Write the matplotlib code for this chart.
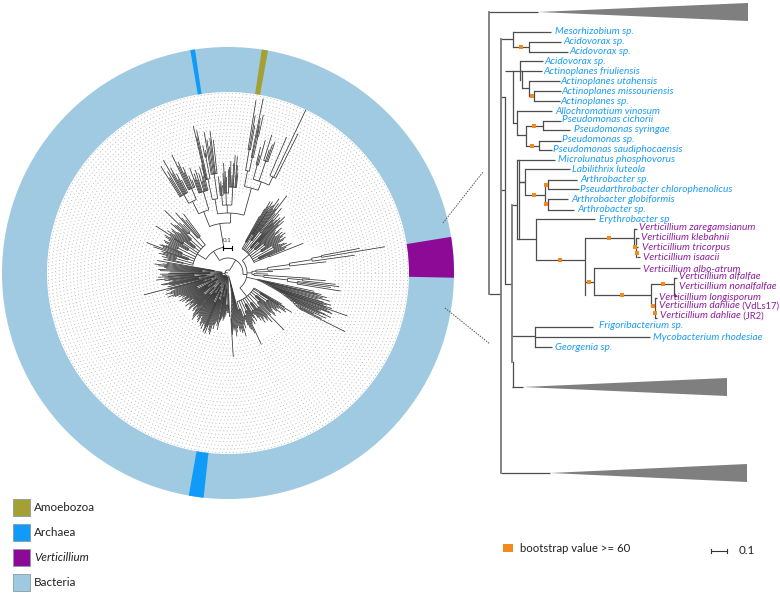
import numpy as np
import matplotlib
matplotlib.use("Agg")
import matplotlib.pyplot as plt
from matplotlib.collections import LineCollection
from matplotlib.patches import Wedge, Polygon, Rectangle

plt.rcParams['font.family'] = ['Lato', 'DejaVu Sans']

BLUE = '#1c9cf2'
PURPLE = '#8f1f9f'
GREY = '#7f7f7f'
ORANGE = '#f28a1c'
CX, CY = 228.0, 273.0

# ring sectors, degrees counter-clockwise from east
ring_names = ['Amoebozoa', 'Archaea', 'Verticillium', 'Archaea']
ring_start = [79.8, 98.4, -1.2, 260.0]
ring_end = [81.4, 99.6, 9.2, 263.8]
ring_colors = ['#a5a033', '#0f9bf7', '#8c0a96', '#0f9bf7']

# inner limit of the dotted guide rings (angle, radius)
mask_angle = [0, 12, 20, 30, 40, 50, 55, 60, 65, 71, 82, 90, 97, 104, 115, 126, 135, 145, 160, 175,
              190, 200, 230, 250, 270, 274, 280, 295, 315, 330, 340, 350, 360]
mask_r = [108, 100, 85, 74, 82, 92, 98, 104, 108, 92, 78, 68, 72, 62, 70, 70, 72, 74, 80, 70,
          70, 62, 58, 62, 60, 80, 62, 75, 78, 75, 100, 105, 108]

# circular tree, nodes are [radius, children...], leaves are (angle, tip radius)
cluster_a = [88,
             [104, [125, (80.8, 175), (80.2, 160), (79.7, 150)], [118, (78.6, 178), (78.2, 158), [140, (77.9, 150), (77.4, 162)]]],
             [97, [112, (75.5, 130), (74.9, 122), (74.3, 138)], [118, (72.4, 145), (71.5, 130), (70.9, 136), (70.3, 139)],
              [106, (66.7, 148), (64.5, 181), (63.3, 156)]]]
cluster_b = [68,
             [78, (95.7, 97), (95.1, 90), (94.5, 92), (93.5, 88)],
             [80, (92.9, 100), (92.3, 110), (91.6, 102), (91.0, 96), (90.0, 104)],
             [86, (89.2, 106), (88.5, 112), (87.6, 98), (87.0, 110), (86.5, 118), (85.4, 117), (84.9, 108), (84.4, 100)]]
cluster_c = [75,
             [96, (103.3, 151), (102.9, 140), (102.4, 146), [118, (101.2, 130), (100.8, 122), (100.4, 125)]],
             [100, (99.6, 143), (99.0, 135), (98.3, 128), (97.7, 136), (97.2, 143), (96.3, 134)]]
cluster_d = [66,
             [85, (110.0, 112), (109.4, 100), (108.8, 105), (108.2, 98), (107.6, 108), (106.4, 104), (105.7, 96), (105.0, 110), (104.4, 100), (103.7, 111)],
             [80, [92, (115.4, 131), (114.8, 118), (114.2, 122), (113.6, 110), (113.0, 115), (112.0, 105), (111.2, 100)],
              [90, (122.2, 126), (121.5, 112), (120.8, 118), (119.8, 130), (119.2, 114), (118.6, 120), (118.0, 106), (117.4, 112), (116.6, 104)]]]
leaves_e = [(127, 74), (128.5, 68), (130, 72), (131, 80), (132.5, 66), (134, 70), (135.3, 89), (136, 64), (137, 70),
            (138, 72), (139, 76), (140, 62), (141, 65), (142, 72), (143, 70), (144, 66), (145, 74), (146, 70),
            (146.9, 86), (147.5, 64), (148, 68), (149, 74), (150, 72), (151, 68), (152, 66), (153, 72), (154, 70),
            (155, 66), (156, 68), (156.8, 72), (157.5, 74), (158.5, 70), (159.5, 87), (160.6, 79), (161.3, 66),
            (162, 70), (163, 68), (164, 72), (165, 64), (166, 68), (167, 62), (168, 66)]
leaves_f = [(170, 72), (171, 62), (172, 66), (173, 74), (174, 70), (175, 64), (176, 62), (177, 70), (178, 68),
            (179, 58), (180, 60), (181, 68), (182, 66), (183, 60), (183.5, 70), (184.5, 64), (185.6, 72), (186.3, 60),
            (187, 64), (188, 56), (189, 60), (189.8, 68), (190.5, 66), (191.3, 60), (192, 58), (193, 62), (194.6, 87),
            (195.3, 60), (196, 64), (197, 56), (198, 60), (199, 66), (200, 62), (201, 58), (202, 65), (203, 60),
            (204, 58), (205, 52), (206, 55), (207, 50)]
leaves_g = [(208, 52), (209, 48), (210, 56), (211, 50), (212, 54), (213, 46), (214, 50), (215, 52), (216, 48), (217, 44),
            (218, 54), (219, 48), (220, 50), (221, 46), (222, 52), (223, 54), (224, 48), (225, 44), (226, 50), (227, 52),
            (228, 46), (229, 50), (230, 54), (231, 56), (232.3, 59), (233, 52), (234, 50), (235, 54), (236, 52), (237, 56),
            (238, 58), (239, 50), (240, 54), (241, 58), (242, 60), (243, 56), (244, 62), (245, 56), (246, 58), (246.8, 64),
            (247.5, 62), (248.3, 58), (249, 65), (250, 56), (251, 60), (252, 62), (253, 64), (254, 54), (255, 58), (256, 52),
            (257, 50), (258, 54), (259.4, 58), (260.2, 50), (261, 48), (262, 46), (263, 44), (264, 48), (265, 46), (266, 44),
            (267, 42), (268, 38), (269, 40), (270, 36), (271, 40), (272, 44)]
leaves_keel = [(285, 60), (284, 62), (283, 58), (282, 60), (281, 54), (280, 56), (279, 60), (278, 64),
               (277, 58), (276, 56), (275, 58), (274.3, 62), (273.6, 84)]
leaves_h = [(286, 66), (287, 54), (288, 58), (289, 52), (290, 50), (291, 56), (292, 60),
            (293, 62), (294, 66), (295, 79), (296, 56), (297, 54), (298, 58), (299, 50), (300, 52), (301, 56), (302, 48),
            (303, 50), (304, 54), (305, 58), (306, 54), (307, 62), (308, 58), (309, 56), (310, 62), (311, 60), (312, 66),
            (313, 58), (314.5, 80), (315.5, 60), (317, 58), (318, 64), (319, 62), (320, 58), (321, 56), (322, 62), (323, 66),
            (324, 60), (325, 62), (326, 70), (327, 68), (327.6, 60), (328.3, 75), (329, 66), (330, 62)]
leaves_i = [(348, 88), (347, 96), (346.5, 92), (346, 102), (345.2, 98), (344.5, 106), (343.8, 94), (343, 100), (342.6, 108),
            (342, 104), (341.6, 100), (341, 110), (340.7, 104), (340.2, 127), (339.6, 106), (339, 110), (338.6, 112), (338, 100),
            (337.6, 98), (337, 106), (336.6, 112), (336, 100), (335.2, 108), (334.5, 95), (334, 104), (333.4, 131)]
leaves_up = [(61, 65), (60.2, 74), (59.5, 83), (58.8, 78), (58, 84), (57.5, 74), (57, 80), (56.2, 82), (55.5, 90), (54.8, 78),
             (54, 86), (53.3, 80), (52.7, 97), (51.6, 76), (50.5, 84), (49.8, 70), (49, 78), (48.2, 68), (47.5, 72), (46.7, 76),
             (46, 66), (45.4, 74), (44.7, 80), (43.8, 70), (43, 76), (42, 64), (41, 62), (40, 70), (39, 66), (38, 60), (37, 68),
             (36, 64), (35, 70), (34, 66), (33, 62), (32, 68), (31, 65), (30, 58), (29, 60), (28, 64), (27, 66), (26, 60),
             (25, 70), (24, 64), (23, 62), (21.5, 81)]
right_up = [24,
            [28, (2.0, 45), [40, (4.0, 62), [62, (6.5, 99), [85, (8.0, 128), [95, (9.5, 159), (10.6, 134)]]]]],
            [26, (-1.5, 40), [36, (-3.7, 82), [60, [75, (-4.5, 98), (-6.0, 108)], [70, (-7.0, 112), (-8.0, 104), (-9.1, 114)]]]]]

# right hand tree, pixel-read: horizontal branches (x0, x1, y)
h_x0 = [489, 489, 501, 513, 513, 529, 529, 501, 505, 513, 520, 520, 521.5, 529, 529, 534, 534, 513, 517, 517, 526, 543, 543, 526, 539, 539,
        501, 505, 512, 517, 519, 525, 519, 525, 545, 548, 548, 545, 548, 548, 517, 536, 536, 585, 634, 636, 636, 637,
        585, 594, 594, 651, 674, 674, 651, 655, 655, 512, 535, 535, 535, 512, 501]
h_x1 = [538, 501, 513, 551, 529, 561, 568, 505, 513, 520, 543, 542, 529, 560, 534, 561, 560, 517, 552, 526, 543, 561, 570, 539, 561, 552,
        505, 512, 517, 555, 525, 570, 525, 545, 548, 577, 579, 548, 568, 574, 536, 595, 585, 634, 637, 639, 638, 640,
        594, 640, 651, 674, 677, 677, 655, 657, 657, 535, 593, 650, 552, 523, 550]
h_y = [12, 294, 39, 32, 47, 42, 52, 97, 71, 71, 61, 71, 88, 81, 96, 91, 101, 123, 111, 135, 126, 121, 130, 146, 141, 150,
       190, 284, 205, 160, 182, 169, 182, 195, 185, 180, 189, 204, 199, 210, 239, 219, 260, 238, 229, 238, 247, 257,
       282, 268, 295, 284, 278, 296, 306, 298, 318, 336, 327, 337, 347, 387, 473]
# vertical spines (x, y0, y1)
v_x = [513, 529, 505, 513, 520, 521.5, 529, 534, 517, 526, 543, 539, 519, 525, 545, 548, 548, 517, 536, 585, 634, 636, 594, 651, 674, 655, 535, 513]
v_y0 = [32, 42, 97, 71, 61, 71, 81, 91, 111, 126, 121, 141, 160, 169, 185, 180, 199, 160, 219, 238, 229, 238, 268, 284, 278, 298, 327, 362]
v_y1 = [47, 52, 284, 123, 80, 88, 96, 101, 135, 146, 130, 150, 239, 195, 204, 189, 210, 239, 260, 295, 247, 257, 295, 306, 296, 318, 347, 387]
# heavier main spines
thick_x = [489, 501, 512]
thick_y0 = [12, 39, 205]
thick_y1 = [294, 473, 362]
# collapsed clades (tip x, tip y, right x, top y, bottom y)
wedge_tip_x = [538, 523, 550]
wedge_tip_y = [12, 387, 473]
wedge_right = [748, 727, 747]
wedge_top = [3, 378, 464]
wedge_bottom = [21, 396, 482]
# bootstrap marks
boot_x = [521, 531.5, 534, 532, 534, 546, 546, 560, 609, 635, 637, 589, 622, 663, 653, 655]
boot_y = [47, 96, 126, 146, 195, 185, 204, 260, 238, 247, 253, 282, 295, 284, 306, 313]

taxa_blue = ['Mesorhizobium sp.', 'Acidovorax sp.', 'Acidovorax sp.', 'Acidovorax sp.', 'Actinoplanes friuliensis',
             'Actinoplanes utahensis', 'Actinoplanes missouriensis', 'Actinoplanes sp.', 'Allochromatium vinosum',
             'Pseudomonas cichorii', 'Pseudomonas syringae', 'Pseudomonas sp.', 'Pseudomonas saudiphocaensis',
             'Microlunatus phosphovorus', 'Labilithrix luteola', 'Arthrobacter sp.', 'Pseudarthrobacter chlorophenolicus',
             'Arthrobacter globiformis', 'Arthrobacter sp.', 'Erythrobacter sp', 'Frigoribacterium sp.',
             'Mycobacterium rhodesiae', 'Georgenia sp.']
blue_x = [555, 563, 569, 544, 543, 560, 561, 560, 555, 562, 574, 562, 553, 558, 572, 580, 580, 571, 577, 599, 599, 653, 555]
blue_y = [31, 41.5, 51, 61, 71, 81, 92, 102, 112, 120, 130, 140, 150, 160, 169, 179, 189, 199, 209, 219, 325, 338, 347]
taxa_purple = ['Verticillium zaregamsianum', 'Verticillium klebahnii', 'Verticillium tricorpus', 'Verticillium isaacii',
               'Verticillium albo-atrum', 'Verticillium alfalfae', 'Verticillium nonalfalfae', 'Verticillium longisporum']
purple_x = [639, 641, 642, 643, 643, 679, 679, 659]
purple_y = [228, 238, 247, 258, 269, 277, 287, 297]
dahliae_strain = ['(VdLs17)', '(JR2)']
dahliae_x = [659, 660]
dahliae_y = [306, 316]

legend_names = ['Amoebozoa', 'Archaea', 'Verticillium', 'Bacteria']
legend_colors = ['#a5a033', '#0f9bf7', '#8c0a96', '#9ecae1']
legend_y = [507.5, 532.5, 557.5, 582.5]


def pol(a, r):
    t = np.radians(a)
    return CX + r * np.cos(t), CY - r * np.sin(t)


def ladder(r0, r1, leaves):
    # caterpillar clade, spine walks towards the last leaf
    node = leaves[-1]
    n = len(leaves)
    for i in range(n - 2, -1, -1):
        r = r0 + (r1 - r0) * i / max(n - 2, 1)
        node = [min(r, leaves[i][1] - 3), leaves[i], node]
    return node


def clumps(r0, node_rings, leaves, size=4):
    # dense fan: small groups hanging off one arc
    groups = []
    for i, k in enumerate(range(0, len(leaves), size)):
        part = leaves[k:k + size]
        r = min(node_rings[i % len(node_rings)], min(p[1] for p in part) - 3)
        groups.append([r] + part)
    return [r0] + groups


def neg(leaves):
    return [(a - 360, r) for a, r in leaves]


tree_root = [3,
             [15,
              [19,
               clumps(28, [36, 46, 40, 52, 34, 44], leaves_up),
               right_up,
               ladder(30, 80, neg(leaves_i)),
               clumps(30, [38, 46, 42, 36, 48], neg(leaves_h))],
              [16,
               [26,
                clumps(36, [46, 56, 50, 42, 54], leaves_e),
                [50, cluster_d, [60, cluster_c, cluster_b, cluster_a]]]]],
             clumps(6, [14, 26, 18, 34, 22, 30], leaves_f),
             clumps(4, [12, 24, 16, 32, 20, 28], leaves_g),
             ladder(6, 46, leaves_keel)]

segs = []


def draw_node(node, parent_r):
    if isinstance(node, tuple):
        a, r = node
        segs.append([pol(a, parent_r), pol(a, r)])
        return a
    r = node[0]
    angs = [draw_node(c, r) for c in node[1:]]
    a0, a1 = min(angs), max(angs)
    aa = np.linspace(a0, a1, max(int(a1 - a0) // 3 + 2, 2))
    segs.append([pol(x, r) for x in aa])
    a = 0.5 * (a0 + a1)
    segs.append([pol(a, parent_r), pol(a, r)])
    return a


fig = plt.figure(figsize=(7.8, 5.94), dpi=100)
ax = fig.add_axes([0, 0, 1, 1])
ax.set_xlim(0, 780)
ax.set_ylim(594, 0)
ax.axis('off')

# outer ring
ax.add_patch(Wedge((CX, CY), 226, 0, 360, width=45, fc='#9fcae1', ec='none', zorder=1))
for a0, a1, c in zip(ring_start, ring_end, ring_colors):
    ax.add_patch(Wedge((CX, CY), 226, -a1, -a0, width=45, fc=c, ec='none', zorder=2))

# dotted guide rings
tt = np.linspace(0, 2 * np.pi, 720)
for r in np.arange(50, 181, 3.6):
    ax.plot(CX + r * np.cos(tt), CY + r * np.sin(tt), color='#a6a6a6', lw=0.6,
            ls=(0, (1, 3.2)), zorder=1)
ax.add_patch(Polygon([pol(a, r) for a, r in zip(mask_angle, mask_r)], fc='white', ec='none', zorder=2))

# circular tree
draw_node(tree_root, 0)
ax.add_collection(LineCollection(segs, colors='#333333', linewidths=0.55, zorder=3))
ax.plot([223, 232], [248, 248], color='k', lw=0.8, zorder=3)
ax.plot([223, 223], [246, 250], color='k', lw=0.8, zorder=3)
ax.plot([232, 232], [246, 250], color='k', lw=0.8, zorder=3)
ax.text(227, 241, '0.1', fontsize=4.5, ha='center', va='center', color='#333333')

# zoom connectors
ax.plot([443, 483], [223, 172], color='#555555', lw=0.7, ls=(0, (1.5, 1.2)))
ax.plot([445, 490], [308, 344], color='#555555', lw=0.7, ls=(0, (1.5, 1.2)))

# right tree
for x0, x1, y in zip(h_x0, h_x1, h_y):
    ax.plot([x0, x1], [y, y], color='#4d4d4d', lw=0.9, solid_capstyle='butt', zorder=3)
for x, y0, y1 in zip(v_x, v_y0, v_y1):
    ax.plot([x, x], [y0, y1], color='#4d4d4d', lw=0.9, solid_capstyle='projecting', zorder=3)
for x, y0, y1 in zip(thick_x, thick_y0, thick_y1):
    ax.plot([x, x], [y0, y1], color='#7a7a7a', lw=1.3, solid_capstyle='projecting', zorder=3)
for tx, ty, rx, t, b in zip(wedge_tip_x, wedge_tip_y, wedge_right, wedge_top, wedge_bottom):
    ax.fill([tx, rx, rx], [ty, t, b], color=GREY, lw=0, zorder=3)
ax.scatter(boot_x, boot_y, marker='s', s=12, color=ORANGE, lw=0, zorder=4)

for s, x, y in zip(taxa_blue, blue_x, blue_y):
    ax.text(x, y, s, color=BLUE, style='italic', fontsize=7.3, va='center', ha='left')
for s, x, y in zip(taxa_purple, purple_x, purple_y):
    ax.text(x, y, s, color=PURPLE, style='italic', fontsize=7.3, va='center', ha='left')
for s, x, y in zip(dahliae_strain, dahliae_x, dahliae_y):
    t = ax.text(x, y, 'Verticillium dahliae', color=PURPLE, style='italic', fontsize=7.3, va='center', ha='left')
    ax.annotate(' ' + s, xy=(1, 0.5), xycoords=t, color=PURPLE, fontsize=6.8, va='center', ha='left')

# legends
for s, c, y in zip(legend_names, legend_colors, legend_y):
    ax.add_patch(Rectangle((13, y - 8.5), 17, 17, fc=c, ec='#8a9aa0', lw=0.6))
    ax.text(34, y, s, fontsize=8.4, va='center', color='#222222', style='italic' if s == 'Verticillium' else 'normal')
ax.add_patch(Rectangle((503, 544), 10, 8, fc=ORANGE, ec='none'))
ax.text(520, 548, 'bootstrap value >= 60', fontsize=8.2, va='center', color='#222222')
ax.plot([711, 727], [551, 551], color='#333333', lw=0.8)
ax.plot([711, 711], [549, 553], color='#333333', lw=0.8)
ax.plot([727, 727], [549, 553], color='#333333', lw=0.8)
ax.text(739, 550, '0.1', fontsize=8.4, va='center', color='#222222')

fig.savefig('out.png', dpi=100)
